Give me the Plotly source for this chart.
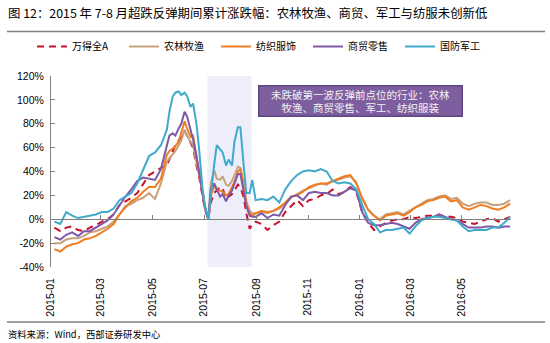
import pandas as pd
import plotly.graph_objects as go

# observation dates: weekly, twice a week during May-August 2015, weekly again afterwards
dates_early = pd.date_range("2015-01-05", periods=19, freq="7D")
dates_mid = [d for d in pd.date_range("2015-05-18", "2015-08-31", freq="D") if d.weekday() in (0, 3)]
dates_late = pd.date_range("2015-09-07", periods=43, freq="7D")
dates = list(dates_early) + list(dates_mid) + list(dates_late)

wind_all_a = [-7, -10, -7, -6, -9, -10, -7, -5, -2, 0, 4, 12, 15, 18, 22, 29, 37, 40, 43,
              45, 50, 58, 62, 66, 68, 74, 70, 64, 60, 45, 36, 20, 8, 0, 14, 22, 24, 27, 26,
              17, 19, 21, 24, 29, 27, 18, 5, -8, -4, -2,
              -4, -9, -5, -2, 6, 11, 16, 11, 16, 17, 20, 21, 25, 21, 23, 27, 23, 6, -3, -9,
              -6, -3, -1, 0, 0, 2, 1, 2, 3, 3, 4, 2, 2, 1, -2, -3, -4, -2, 0, 1, -2, 0, 2]
agri = [-20, -20, -17, -16, -16, -14, -11, -10, -8, -6, -2, 4, 11, 13, 16, 18, 22, 17, 30,
        48, 51, 54, 57, 62, 66, 75, 70, 65, 62, 48, 38, 24, 10, 0, 30, 41, 34, 33, 36,
        29, 28, 32, 37, 44, 43, 30, 15, 7, 5, 5,
        6, 5, 7, 9, 13, 18, 21, 24, 26, 28, 30, 29, 32, 33, 35, 36, 31, 17, 8, 3,
        0, 4, 5, 6, 4, 7, 10, 13, 16, 17, 19, 20, 17, 18, 13, 11, 13, 14, 14, 12, 12, 13, 16]
textile = [-25, -27, -23, -21, -20, -17, -16, -14, -11, -8, -4, 4, 10, 15, 18, 23, 27, 27, 34,
           54, 57, 59, 61, 65, 72, 82, 76, 69, 70, 52, 42, 24, 10, 0, 20, 28, 25, 24, 23,
           20, 21, 27, 31, 40, 42, 27, 13, 5, 3, 5,
           7, 6, 7, 10, 14, 19, 20, 23, 27, 29, 30, 30, 32, 34, 36, 37, 30, 18, 8, 3,
           -1, 3, 4, 5, 3, 6, 10, 12, 15, 16, 18, 19, 15, 16, 10, 8, 10, 12, 11, 9, 8, 10, 13]
retail = [-15, -17, -13, -11, -14, -10, -10, -7, -4, -1, 4, 12, 19, 25, 32, 35, 34, 33, 42,
          60, 70, 72, 70, 76, 80, 90, 86, 75, 67, 53, 41, 22, 10, 0, 25, 30, 25, 19, 21,
          15, 20, 24, 30, 38, 38, 22, 11, 3, 2, 2,
          5, 1, 4, 3, 12, 19, 20, 16, 22, 23, 22, 22, 20, 20, 23, 26, 24, 6, -3, -5,
          -5, -4, -3, -4, -6, -8, -3, 0, 1, 2, 4, 2, 0, -1, -4, -7, -7, -7, -6, -6, -7, -6, -6]
defense = [-2, -4, 6, 3, 1, 2, 3, 4, 6, 6, 9, 16, 19, 22, 30, 42, 53, 56, 62,
           75, 90, 103, 106, 107, 104, 106, 103, 94, 97, 80, 60, 27, 12, 0, 22, 46, 62, 59, 56,
           45, 50, 45, 65, 77, 77, 44, 22, 22, 33, 16,
           17, 16, 19, 14, 25, 32, 37, 40, 41, 40, 42, 40, 32, 30, 31, 30, 25, 12, 0, -4,
           -11, -9, -9, -8, -7, -12, -6, -1, 1, 2, 2, 1, 0, -1, -6, -10, -9, -9, -9, -7, -7, -3, 2]

series_names = ["万得全A", "农林牧渔", "纺织服饰", "商贸零售", "国防军工"]
series_values = [wind_all_a, agri, textile, retail, defense]
series_colors = ["#C8102E", "#C7A07C", "#F07D22", "#7E5AA6", "#3FAACB"]
series_dash = ["7px,5px", "solid", "solid", "solid", "solid"]

tick_dates = ["2015-01-01", "2015-03-01", "2015-05-01", "2015-07-01", "2015-09-01",
              "2015-11-01", "2016-01-01", "2016-03-01", "2016-05-01"]
tick_labels = ["2015-01", "2015-03", "2015-05", "2015-07", "2015-09",
               "2015-11", "2016-01", "2016-03", "2016-05"]
y_ticks = [-40, -20, 0, 20, 40, 60, 80, 100, 120]
y_tick_labels = ["-40%", "-20%", "0%", "20%", "40%", "60%", "80%", "100%", "120%"]

band_start, band_end = "2015-07-05", "2015-08-26"
x_range = ["2015-01-01", "2016-06-28"]

title_text = "图 12：2015 年 7-8 月超跌反弹期间累计涨跌幅：农林牧渔、商贸、军工与纺服未创新低"
source_text = "资料来源：Wind，西部证券研发中心"
box_text = "未跌破第一波反弹前点位的行业：农林<br>牧渔、商贸零售、军工、纺织服装"

CJK = "Noto Sans CJK SC, Liberation Sans, Arial, sans-serif"
LAT = "Liberation Sans, Arial, sans-serif"

ML, MR, MT, MB = 51, 39, 76, 76
PW, PH = 550 - ML - MR, 343 - MT - MB


def px_x(px):
    return (px - ML) / PW


def px_y(py):
    return (343 - MB - py) / PH


fig = go.Figure()
for name, vals, col, dash in zip(series_names, series_values, series_colors, series_dash):
    fig.add_trace(go.Scatter(x=dates, y=vals, name=name, mode="lines",
                             line=dict(color=col, width=2, dash=dash)))

# dummy trace to carry the zero-line axis with tick marks
fig.add_trace(go.Scatter(x=[dates[0]], y=[None], xaxis="x2", showlegend=False,
                         hoverinfo="skip", mode="lines"))

fig.update_layout(
    width=550, height=343,
    margin=dict(l=ML, r=MR, t=MT, b=MB, autoexpand=False),
    paper_bgcolor="white", plot_bgcolor="white",
    font=dict(family=CJK, size=10, color="#000000"),
    xaxis=dict(type="date", range=x_range, tickvals=tick_dates, ticktext=tick_labels,
               tickangle=-90, showgrid=False, showline=False, zeroline=False, ticks="",
               ticklabelstandoff=8,
               tickfont=dict(family=LAT, size=10.5, color="#000")),
    xaxis2=dict(type="date", range=x_range, overlaying="x", anchor="free", position=0.25,
                side="bottom", showline=True, linecolor="#7F7F7F", linewidth=1.2,
                ticks="inside", ticklen=4, tickcolor="#7F7F7F", tickvals=tick_dates,
                showticklabels=False, showgrid=False, zeroline=False),
    yaxis=dict(range=[-40, 120], tickvals=y_ticks, ticktext=y_tick_labels, showgrid=False,
               zeroline=False, showline=True, linecolor="#7F7F7F", linewidth=1,
               ticks="inside", ticklen=4, tickcolor="#7F7F7F", ticklabelstandoff=4,
               tickfont=dict(family=LAT, size=10.5, color="#000")),
    legend=dict(orientation="h", xref="container", yref="container", x=32 / 550, y=1 - 32 / 343,
                xanchor="left", yanchor="top", font=dict(family=CJK, size=10),
                entrywidth=47, entrywidthmode="pixels", bgcolor="rgba(0,0,0,0)",
                itemwidth=30),
    showlegend=True,
)

fig.add_shape(type="rect", xref="x", yref="paper", x0=band_start, x1=band_end, y0=0, y1=1,
              fillcolor="#EEEEFB", line=dict(width=0), layer="below")

# header and footer rules
fig.add_shape(type="line", xref="paper", yref="paper", x0=px_x(7), x1=px_x(545),
              y0=px_y(31.5), y1=px_y(31.5), line=dict(color="#7F7F7F", width=1.5))
fig.add_shape(type="line", xref="paper", yref="paper", x0=px_x(7), x1=px_x(545),
              y0=px_y(322), y1=px_y(322), line=dict(color="#7F7F7F", width=1.5))

fig.add_annotation(text=title_text, xref="paper", yref="paper", x=px_x(6), y=px_y(13),
                   xanchor="left", yanchor="middle", showarrow=False,
                   font=dict(family=CJK, size=12.4, color="#000"))
fig.add_annotation(text=source_text, xref="paper", yref="paper", x=px_x(6), y=px_y(334),
                   xanchor="left", yanchor="middle", showarrow=False,
                   font=dict(family=CJK, size=9.3, color="#000"))
fig.add_annotation(text=box_text, xref="paper", yref="paper", x=px_x(360), y=px_y(101.5),
                   xanchor="center", yanchor="middle", showarrow=False, align="center",
                   width=200, height=27, bgcolor="#7D5FA0", bordercolor="#5E4682", borderwidth=1.5,
                   borderpad=1,
                   font=dict(family=CJK, size=10.5, color="#F2F2F2"))

fig.write_html("out.html")
